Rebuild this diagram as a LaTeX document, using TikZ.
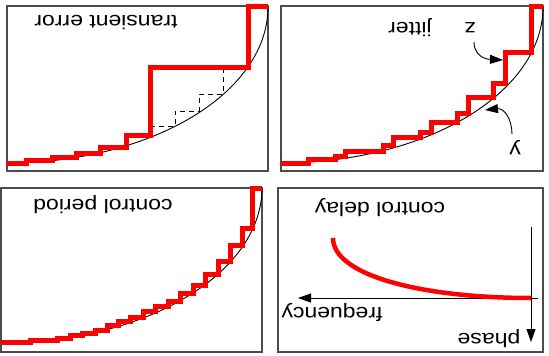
\documentclass[tikz,border=0pt]{standalone}
\usepackage{fontspec}
\setmainfont{Liberation Sans}
\usetikzlibrary{arrows.meta}

\begin{document}
\begin{tikzpicture}[x=1pt, y=-1pt,
    panel/.style={draw=black!70, line width=1.2pt},
    ideal/.style={black, line width=0.9pt},
    stair/.style={red, line width=5pt},
    ghost/.style={black, line width=1pt, dash pattern=on 5pt off 4pt},
    lbl/.style={rotate=180, yscale=0.85, anchor=base, inner sep=0pt,
                font=\fontsize{23}{26}\selectfont},
    pointer/.style={-{Triangle[length=13pt, width=9pt]}, line width=0.9pt}
]
    \useasboundingbox (0,0) rectangle (549,356);

    % frames
    \draw[panel] (7,6) rectangle (268,171);
    \draw[panel] (281,6) rectangle (543,171);
    \draw[panel] (1,188) rectangle (262,352);
    \draw[panel] (278,188) rectangle (543,352);

    % transient error
    \draw[ideal] plot[domain=0:90, samples=60] ({7+261*sin(\x)}, {7+156*cos(\x)});
    \draw[ghost] (150,126) -| (175,111) -| (199,94) -| (223,67);
    \draw[stair] (7,163) -| (26,160) -| (52,157) -| (76,153) -| (100,147)
        -| (126,135) -| (150,67) -| (248,6) -- (268,6);
    \node[lbl] (err) at (106,15) {transient error};

    % jitter
    \draw[ideal] plot[domain=0:90, samples=60] ({281+262*sin(\x)}, {7+156*cos(\x)});
    \draw[stair] (281,163) -| (308,159) -| (335,156) -| (345,151) -| (383,145)
        -| (393,137) -| (420,132) -| (431,122) -| (457,113) -| (468,97)
        -| (493,83) -| (505,52) -| (531,6) -- (543,6);
    \node[lbl] (jit) at (410,22) {jitter};
    \node[lbl] (z) at (470,22) {z};
    \node[lbl] (y) at (515,144) {y};
    \coordinate (zs) at (474,42);
    \coordinate (zt) at (503,60);
    \coordinate (ys) at (512,134);
    \coordinate (yt) at (485,110);
    \draw[pointer] (zs) .. controls (474,53) and (482,59) .. (zt);
    \draw[pointer] (ys) .. controls (512,119) and (504,108) .. (yt);

    % control period
    \draw[ideal] plot[domain=0:90, samples=60] ({1+261*sin(\x)}, {188+155*cos(\x)});
    \draw[stair] (1,342.7) -| (30,340) -| (57,338.3) -| (70,335.7) -| (82,333.3)
        -| (95,330) -| (107,325.7) -| (118,321.7) -| (130,317.7) -| (143,311.7)
        -| (155,306.7) -| (168,301.7) -| (180,293.3) -| (193,285) -| (205,274.3)
        -| (218,261) -| (230,245) -| (242,228.3) -| (252,188.3) -- (262,188.3);
    \node[lbl] (per) at (103,199) {control period};

    % control delay
    \coordinate (ph0) at (531,227);
    \coordinate (ph1) at (531,342);
    \coordinate (fr0) at (538,298);
    \coordinate (fr1) at (298,298);
    \draw[pointer] (ph0) -- (ph1);
    \draw[pointer] (fr0) -- (fr1);
    \draw[red, line width=4.5pt] (333,238) .. controls (333,275) and (420,298) .. (531,298);
    \node[lbl] (del) at (380,202.3) {control delay};
    \node[lbl] (freq) at (332,307) {frequency};
    \node[lbl] (phase) at (489,333.5) {phase};
\end{tikzpicture}
\end{document}
